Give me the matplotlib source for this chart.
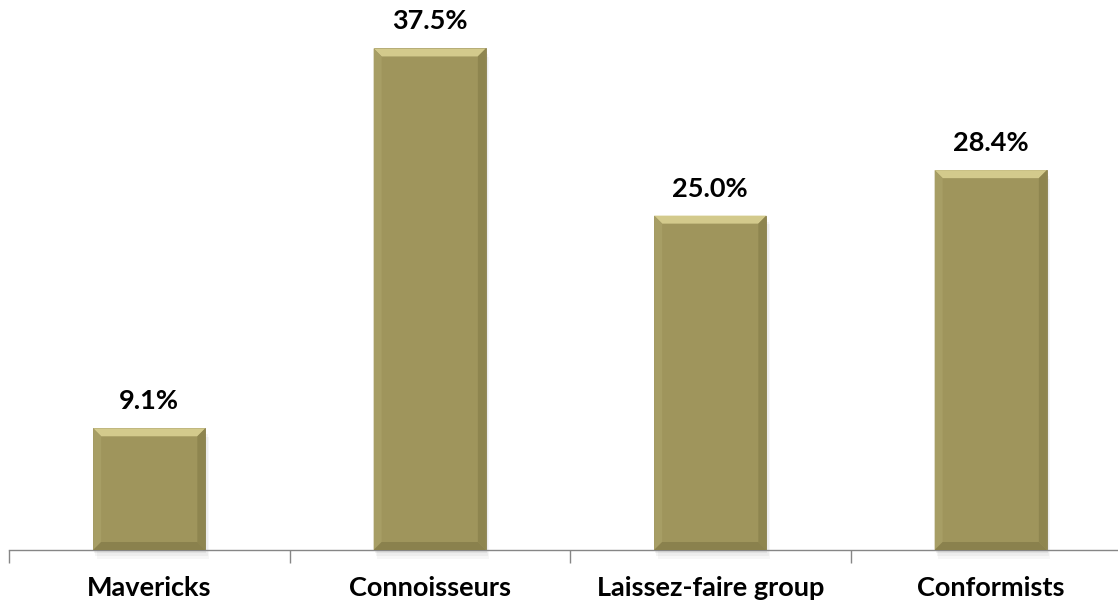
import matplotlib.pyplot as plt
from matplotlib.patches import Polygon, Rectangle

# 数据
categories = ['Mavericks', 'Connoisseurs', 'Laissez-faire group', 'Conformists']
values = [9.1, 37.5, 25.0, 28.4]
value_labels = ['9.1%', '37.5%', '25.0%', '28.4%']

plt.rcParams['font.family'] = ['Lato', 'DejaVu Sans']

W, H = 1118, 603
fig = plt.figure(figsize=(W / 100, H / 100), dpi=100)
# 轴线在 y=550px, 左端 9px, 每个类别约 280.5px
ax = fig.add_axes([9 / W, 53 / H, 1122 / W, 535 / H])
ax.set_xlim(-0.5, 3.5)
ax.set_ylim(0, 40)

bar_color = '#9f955c'
bw = 0.4
x = list(range(len(categories)))

# 阴影
for xi, v in zip(x, values):
    for k, a in enumerate([0.05, 0.04, 0.03]):
        ax.add_patch(Rectangle((xi - bw / 2 + 0.004 * (k + 1), -0.22 * (k + 1)), bw, v,
                               facecolor='black', alpha=a, edgecolor='none', zorder=1,
                               clip_on=False))

bars = ax.bar(x, values, width=bw, color=bar_color, edgecolor='#8a8150', linewidth=0.6, zorder=2)

# 斜面效果 (像素转数据单位)
px_x = 4.0 / 1122
px_y = 40.0 / 535
bev = 8
for b in bars:
    x0, x1 = b.get_x(), b.get_x() + b.get_width()
    y0, y1 = 0, b.get_height()
    dx, dy = bev * px_x, bev * px_y
    faces = [
        ([(x0, y1), (x1, y1), (x1 - dx, y1 - dy), (x0 + dx, y1 - dy)], '#d3ca8c'),  # 上
        ([(x0, y0), (x0, y1), (x0 + dx, y1 - dy), (x0 + dx, y0 + dy)], '#a79e65'),  # 左
        ([(x1, y0), (x1, y1), (x1 - dx, y1 - dy), (x1 - dx, y0 + dy)], '#8e854f'),  # 右
        ([(x0, y0), (x1, y0), (x1 - dx, y0 + dy), (x0 + dx, y0 + dy)], '#8a814d'),  # 下
    ]
    for pts, c in faces:
        ax.add_patch(Polygon(pts, closed=True, facecolor=c, edgecolor='none', zorder=3))

for xi, v, lab in zip(x, values, value_labels):
    ax.text(xi, v + 27 * px_y, lab, ha='center', va='center', fontsize=19.5,
            fontweight='bold', color='black')

for xi, lab in zip(x, categories):
    ax.annotate(lab, xy=(xi, 0), xycoords=('data', 'axes fraction'),
                xytext=(0, -27.5), textcoords='offset points',
                ha='center', va='center', fontsize=19.5, fontweight='bold', color='black')

for s in ['top', 'right', 'left']:
    ax.spines[s].set_visible(False)
ax.spines['bottom'].set_color('#868686')
ax.spines['bottom'].set_linewidth(1.0)
ax.set_yticks([])

ax.set_xticks(x)
ax.set_xticklabels([])
ax.tick_params(axis='x', which='major', length=0)
ax.set_xticks([-0.5, 0.5, 1.5, 2.5, 3.5], minor=True)
ax.tick_params(axis='x', which='minor', length=9, width=1.0, color='#868686', direction='out')

fig.savefig('out.png', dpi=100)
